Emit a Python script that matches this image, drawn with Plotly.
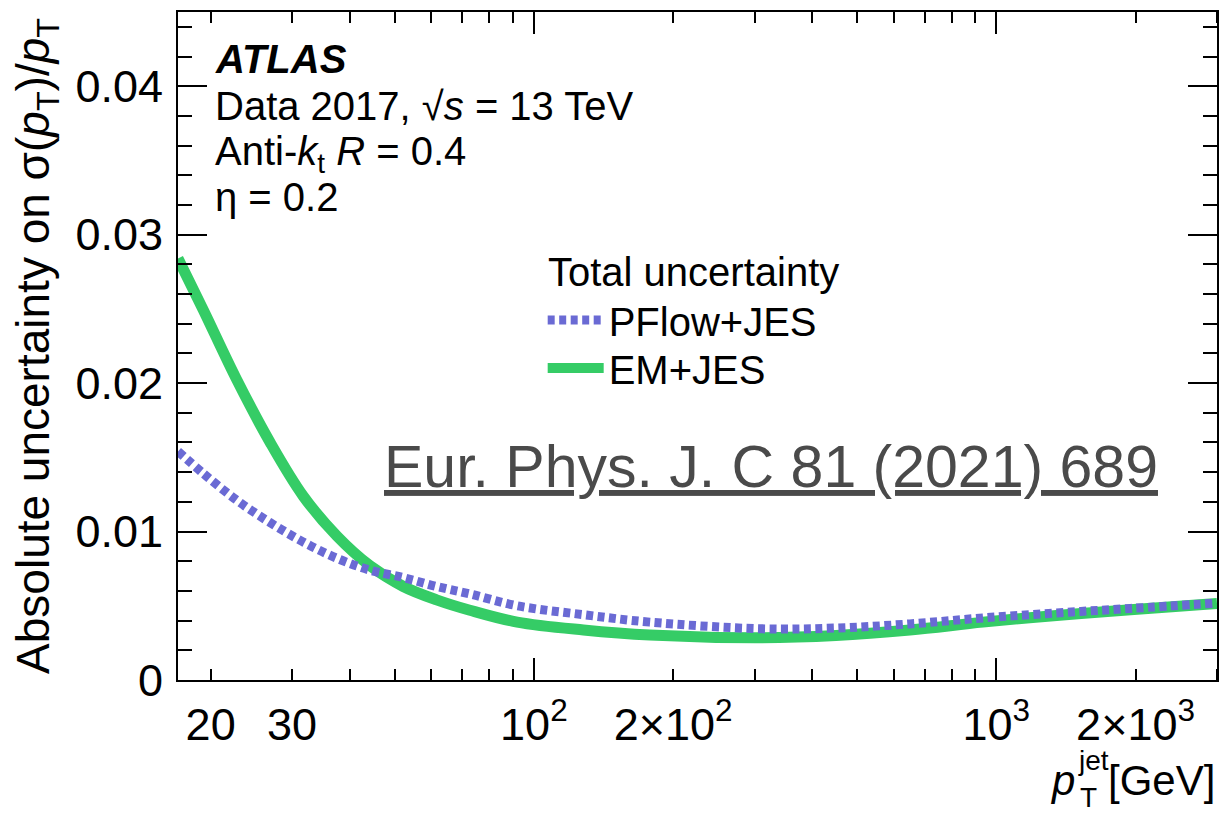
import numpy as np
import plotly.graph_objects as go

# ---- data ----
pt = [17, 19.3, 22.8, 26.9, 31.7, 37.5, 44.2, 52.2, 61.6, 72.7, 92, 128, 178, 310, 450, 650, 935, 1350, 1950, 3000]
em_jes = [0.0284, 0.0249, 0.0202, 0.0160, 0.0124, 0.0097, 0.0077, 0.0063, 0.0054, 0.0047, 0.0039, 0.00337,
          0.00303, 0.00285, 0.00300, 0.00337, 0.00390, 0.00435, 0.00473, 0.00515]
pflow_jes = [0.0154, 0.0139, 0.0121, 0.0106, 0.0093, 0.0082, 0.0074, 0.0069, 0.0063, 0.0058, 0.0050, 0.0044,
             0.0039, 0.00345, 0.00350, 0.00378, 0.00418, 0.00452, 0.00482, 0.00518]

x_label_vals = [20, 30, 100, 200, 1000, 2000]
x_label_text = ["20", "30", "10<sup>2</sup>", "2×10<sup>2</sup>", "10<sup>3</sup>", "2×10<sup>3</sup>"]
x_minor_vals = [20, 30, 40, 50, 60, 70, 80, 90, 200, 300, 400, 500, 600, 700, 800, 900, 2000, 3000]
x_major_vals = [100, 1000]
y_major_vals = [0, 0.01, 0.02, 0.03, 0.04]
y_major_text = ["0", "0.01", "0.02", "0.03", "0.04"]

FONT = "Liberation Sans, Arial, Helvetica, sans-serif"
GREEN = "#35CC66"
BLUE = "#6A6AD4"

fig = go.Figure()
fig.add_trace(go.Scatter(x=pt, y=em_jes, mode="lines", name="EM+JES", legend="legend2",
                         line=dict(color=GREEN, width=11, shape="spline")))
fig.add_trace(go.Scatter(x=pt, y=pflow_jes, mode="lines", name="PFlow+JES", legend="legend",
                         line=dict(color=BLUE, width=9, dash="7px,4.5px", shape="spline")))
# helper trace so that the long major-tick axis is drawn
fig.add_trace(go.Scatter(x=[None], y=[None], xaxis="x2", showlegend=False, hoverinfo="skip"))

xr = [np.log10(17), np.log10(3000)]
leg_common = dict(xanchor="left", yanchor="middle", bgcolor="rgba(0,0,0,0)", borderwidth=0,
                  font=dict(size=40, family=FONT, color="black"), itemwidth=56)
fig.update_layout(
    width=1222, height=817,
    margin=dict(l=178, r=5, t=12, b=137, autoexpand=False),
    paper_bgcolor="white", plot_bgcolor="white",
    font=dict(family=FONT, color="black", size=45),
    showlegend=True,
    legend=dict(x=0.351, y=0.539, **leg_common),
    legend2=dict(x=0.351, y=0.467, **leg_common),
    xaxis=dict(type="log", range=xr, showgrid=False, zeroline=False, automargin=False,
               showline=True, linecolor="black", linewidth=2, mirror="ticks",
               tickmode="array", tickvals=x_label_vals, ticktext=x_label_text,
               ticks="", ticklabelstandoff=4,
               tickfont=dict(size=45, family=FONT),
               minor=dict(tickmode="array", tickvals=x_minor_vals, ticks="inside",
                          ticklen=11, tickwidth=2, tickcolor="black", showgrid=False),
               title=dict(text="")),
    xaxis2=dict(type="log", range=xr, overlaying="x", side="bottom", anchor="y", automargin=False,
                showgrid=False, zeroline=False, showline=False, mirror="ticks",
                tickmode="array", tickvals=x_major_vals, ticks="inside",
                ticklen=22, tickwidth=2, tickcolor="black", showticklabels=False),
    yaxis=dict(range=[0, 0.045], showgrid=False, zeroline=False, automargin=False,
               showline=True, linecolor="black", linewidth=2, mirror="ticks",
               tickmode="array", tickvals=y_major_vals, ticktext=y_major_text,
               ticks="inside", ticklen=29, tickwidth=2, tickcolor="black",
               tickfont=dict(size=45, family=FONT), ticklabelstandoff=4,
               minor=dict(dtick=0.002, ticks="inside", ticklen=14, tickwidth=2,
                          tickcolor="black", showgrid=False),
               title=dict(text="Absolute uncertainty on σ(<i>p</i><sub>T</sub>)/<i>p</i><sub>T</sub>",
                          font=dict(size=46, family=FONT), standoff=11)),
)

ann = dict(xref="paper", yref="paper", showarrow=False, xanchor="left", yanchor="middle",
           font=dict(size=40, family=FONT, color="black"))
fig.add_annotation(x=0.0337, y=0.929, text="<b><i>ATLAS</i></b>", **ann)
fig.add_annotation(x=0.0337, y=0.860, text="Data 2017, √<i>s</i> = 13 TeV", **ann)
fig.add_annotation(x=0.0337, y=0.787, text="Anti-<i>k</i><sub>t</sub> <i>R</i> = 0.4", **ann)
fig.add_annotation(x=0.0337, y=0.723, text="η = 0.2", **ann)
# legend header
fig.add_annotation(x=0.354, y=0.611, text="Total uncertainty", **ann)

# watermark
fig.add_annotation(xref="paper", yref="paper", x=0.571, y=0.3185, xanchor="center", yanchor="middle",
                   showarrow=False, text="<u>Eur. Phys. J. C 81 (2021) 689</u>",
                   font=dict(size=59, family=FONT, color="#4a4a4a"))

# x-axis title: p_T^jet [GeV] with stacked sub/superscript
xt = dict(xref="paper", yref="paper", showarrow=False, yanchor="middle",
          font=dict(size=42, family=FONT, color="black"))
fig.add_annotation(x=1.0, y=-0.151, xanchor="right", text="[GeV]", **xt)
fig.add_annotation(x=0.865, y=-0.151, xanchor="right", text="<i>p</i>", **xt)
xs = dict(xt, font=dict(size=28, family=FONT, color="black"))
fig.add_annotation(x=0.864, y=-0.12, xanchor="left", text="jet", **xs)
fig.add_annotation(x=0.866, y=-0.176, xanchor="left", text="T", **xs)

fig.write_html("out.html", config={"displayModeBar": False},
               post_script="document.body.style.margin='0px';document.body.style.padding='0px';")
